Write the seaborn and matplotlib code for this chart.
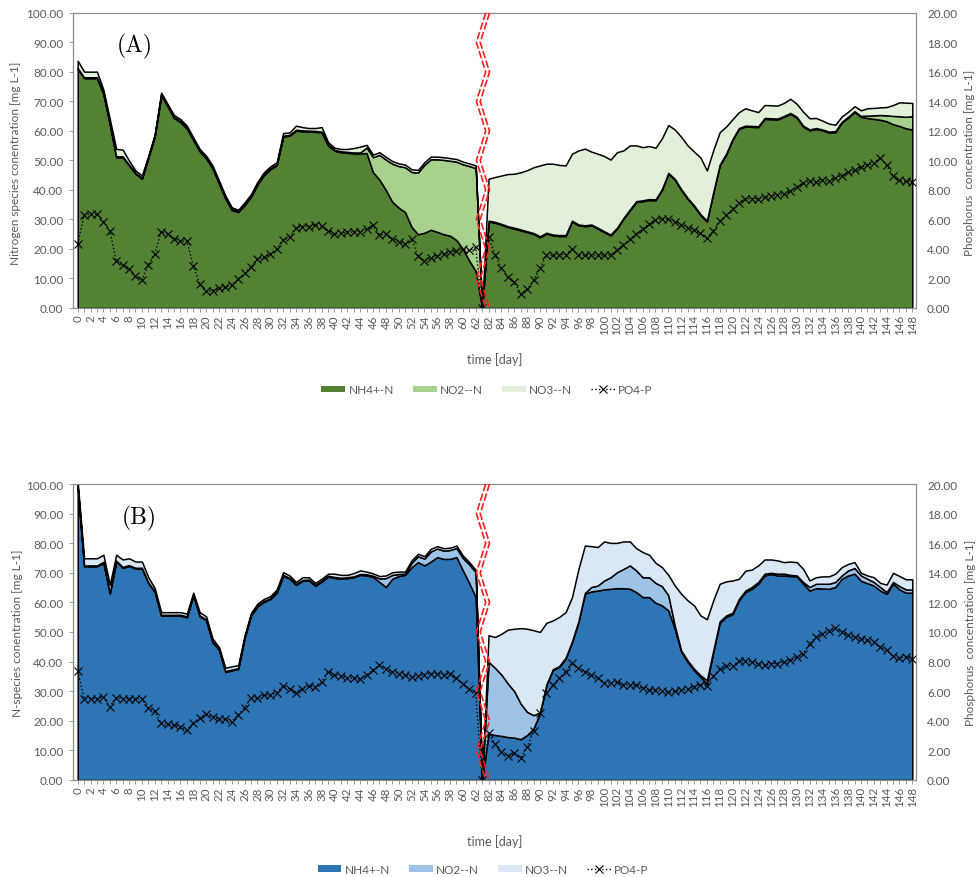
import numpy as np
import pandas as pd
import matplotlib
matplotlib.use("Agg")
import matplotlib.pyplot as plt
import matplotlib.transforms as mtransforms
from matplotlib.ticker import FormatStrFormatter
from matplotlib.patches import Patch
from matplotlib.lines import Line2D
import seaborn as sns

# ---- categories: sampling days, with one empty slot for the break ----
days_before = list(range(0, 63))
days_after = list(range(82, 149))
day_labels = [str(d) for d in days_before] + [""] + [str(d) for d in days_after]

# ---- panel A (green) : nitrogen species [mg L-1] and phosphate [mg L-1] ----
a_nh4 = [81.0, 77.9, 77.9, 77.9, 72.5, 62.3, 51.1, 51.1, 48.3, 45.5,
         43.8, 50.9, 58.2, 72.0, 68.4, 64.4, 63.0, 60.8, 56.9, 53.1,
         50.7, 47.3, 42.2, 37.1, 33.2, 32.5, 34.9, 37.7, 41.9, 45.0,
         47.0, 48.4, 58.1, 58.4, 60.1, 59.9, 59.8, 59.7, 59.5, 55.1,
         53.3, 52.8, 52.6, 52.4, 52.4, 52.5, 46.0, 43.5, 40.0, 36.0,
         34.0, 32.5, 27.5, 25.0, 25.5, 26.5, 25.8, 25.0, 24.5, 23.0,
         20.0, 16.0, 12.5,
         0.0,
         29.3, 28.9, 28.2, 27.4, 26.9, 26.3, 25.7, 25.1, 24.0, 25.2,
         24.6, 24.4, 24.4, 29.3, 28.0, 27.7, 28.0, 26.9, 25.7, 24.6,
         26.9, 30.2, 33.1, 35.9, 36.2, 36.6, 36.5, 40.0, 45.5, 43.5,
         40.0, 37.0, 34.5, 31.5, 29.3, 39.0, 48.3, 52.0, 57.0, 60.7,
         61.5, 61.4, 61.3, 64.1, 64.0, 63.9, 64.8, 65.8, 64.5, 61.5,
         60.2, 60.7, 60.2, 59.5, 59.6, 62.8, 64.5, 66.4, 64.8, 64.4,
         64.1, 63.8, 63.3, 62.3, 61.7, 60.9, 60.5]
a_no2 = [0.3, 0.3, 0.3, 0.3, 0.3, 0.3, 0.3, 0.3, 0.3, 0.3,
         0.3, 0.3, 0.3, 0.3, 0.3, 0.3, 0.3, 0.3, 0.3, 0.3,
         0.3, 0.3, 0.3, 0.3, 0.3, 0.3, 0.3, 0.3, 0.3, 0.3,
         0.3, 0.3, 0.3, 0.3, 0.3, 0.3, 0.3, 0.3, 0.3, 0.3,
         0.3, 0.3, 0.3, 0.3, 0.3, 1.9, 5.1, 8.4, 10.3, 12.9,
         14.1, 15.2, 18.6, 20.9, 23.0, 23.9, 24.6, 25.2, 25.4, 26.6,
         28.7, 32.1, 34.9,
         0.0,
         0.3, 0.3, 0.3, 0.3, 0.3, 0.3, 0.3, 0.3, 0.3, 0.3,
         0.3, 0.3, 0.3, 0.3, 0.3, 0.3, 0.3, 0.3, 0.3, 0.3,
         0.3, 0.3, 0.3, 0.3, 0.3, 0.3, 0.3, 0.3, 0.3, 0.3,
         0.3, 0.3, 0.3, 0.3, 0.3, 0.3, 0.3, 0.3, 0.3, 0.3,
         0.3, 0.3, 0.3, 0.3, 0.3, 0.3, 0.3, 0.3, 0.3, 0.3,
         0.3, 0.3, 0.3, 0.3, 0.3, 0.3, 0.3, 0.3, 0.3, 0.8,
         1.2, 1.6, 2.0, 2.8, 3.3, 3.9, 4.5]
a_no3 = [2.5, 1.9, 1.9, 1.9, 1.2, 1.4, 2.5, 2.3, 1.3, 0.8,
         0.8, 0.4, 0.4, 0.7, 0.4, 0.7, 0.7, 0.7, 0.6, 0.5,
         0.6, 0.7, 0.7, 0.7, 0.6, 0.5, 0.6, 0.6, 0.6, 0.7,
         0.7, 0.7, 0.9, 0.8, 1.4, 1.1, 0.9, 1.0, 1.5, 0.8,
         0.7, 0.8, 1.0, 1.5, 2.0, 0.9, 0.9, 0.9, 0.9, 0.9,
         0.9, 0.9, 0.9, 0.9, 0.9, 0.9, 0.9, 0.9, 0.9, 0.9,
         0.9, 0.9, 0.9,
         0.0,
         14.2, 15.2, 16.4, 17.7, 18.3, 19.4, 20.7, 22.3, 24.0, 23.4,
         24.0, 23.8, 23.6, 22.7, 25.1, 26.0, 24.7, 25.1, 25.5, 25.4,
         25.6, 22.9, 21.7, 18.9, 18.0, 18.0, 17.5, 17.2, 16.2, 16.7,
         17.7, 17.8, 18.2, 19.2, 17.0, 14.2, 11.0, 9.2, 6.7, 5.4,
         5.9, 5.3, 4.8, 4.4, 4.4, 4.4, 4.4, 4.8, 4.4, 4.7,
         3.8, 3.4, 3.0, 2.7, 2.2, 1.8, 1.7, 1.7, 1.9, 2.5,
         2.5, 2.6, 2.8, 3.7, 4.7, 4.8, 4.5]
a_po4 = [4.34, 6.30, 6.36, 6.36, 5.86, 5.24, 3.20, 2.92, 2.64, 2.14,
         1.92, 2.92, 3.66, 5.18, 5.02, 4.68, 4.52, 4.56, 2.86, 1.62,
         1.12, 1.18, 1.32, 1.40, 1.56, 1.96, 2.38, 2.76, 3.32, 3.44,
         3.66, 4.00, 4.60, 4.80, 5.44, 5.52, 5.52, 5.64, 5.56, 5.24,
         5.02, 5.06, 5.14, 5.16, 5.18, 5.36, 5.60, 4.95, 5.00, 4.70,
         4.50, 4.34, 4.70, 3.50, 3.20, 3.40, 3.55, 3.65, 3.78, 3.88,
         4.00, 3.90, 4.10,
         0.0,
         4.80, 3.60, 2.70, 2.10, 1.75, 0.97, 1.26, 1.87, 2.70, 3.57,
         3.60, 3.62, 3.62, 4.00, 3.60, 3.58, 3.58, 3.58, 3.58, 3.60,
         3.90, 4.30, 4.65, 5.00, 5.35, 5.70, 5.95, 6.05, 6.00, 5.85,
         5.65, 5.45, 5.28, 5.05, 4.75, 5.20, 5.90, 6.28, 6.70, 7.15,
         7.40, 7.40, 7.40, 7.50, 7.60, 7.65, 7.72, 7.90, 8.20, 8.45,
         8.58, 8.55, 8.65, 8.60, 8.80, 8.98, 9.20, 9.32, 9.55, 9.66,
         9.80, 10.20, 9.66, 8.98, 8.65, 8.58, 8.53]

# ---- panel B (blue) ----
b_nh4 = [98.5, 72.2, 72.2, 72.2, 73.4, 63.0, 73.8, 71.7, 72.3, 71.4,
         71.4, 66.5, 63.5, 55.5, 55.5, 55.5, 55.5, 55.0, 62.3, 55.3,
         54.0, 46.5, 44.0, 36.5, 37.0, 37.5, 48.0, 55.6, 58.6, 60.2,
         61.1, 63.3, 69.0, 68.0, 65.9, 67.3, 67.4, 65.6, 67.0, 68.7,
         68.3, 68.0, 68.2, 68.5, 69.3, 69.1, 68.6, 66.9, 65.2, 68.0,
         68.9, 69.3, 71.9, 73.6, 72.5, 73.8, 75.3, 74.7, 74.7, 75.3,
         70.8, 66.5, 61.8,
         0.0,
         15.7, 15.2, 14.9, 14.5, 14.3, 13.8, 15.2, 17.4, 22.5, 32.0,
         37.1, 38.2, 41.0, 46.6, 53.4, 62.9, 63.7, 64.0, 64.4, 64.6,
         64.8, 64.8, 64.6, 63.5, 61.8, 61.8, 59.9, 59.0, 57.3, 51.1,
         43.3, 39.9, 37.1, 34.8, 32.6, 43.3, 53.1, 55.1, 56.0, 60.7,
         63.5, 64.6, 66.3, 69.1, 69.6, 69.1, 69.1, 68.9, 68.8, 66.3,
         64.0, 64.8, 64.7, 64.6, 65.2, 68.0, 69.1, 69.7, 67.3, 66.5,
         65.7, 64.0, 62.9, 66.3, 64.4, 63.3, 63.3]
b_no2 = [0.5, 0.3, 0.3, 0.3, 0.3, 0.3, 0.3, 0.3, 0.3, 0.3,
         0.3, 0.3, 0.3, 0.3, 0.3, 0.3, 0.3, 0.3, 0.3, 0.3,
         0.3, 0.3, 0.3, 0.3, 0.3, 0.3, 0.3, 0.3, 0.3, 0.3,
         0.3, 0.3, 0.3, 0.3, 0.3, 0.3, 0.3, 0.3, 0.3, 0.3,
         0.3, 0.3, 0.3, 0.3, 0.3, 0.4, 0.4, 1.2, 3.0, 1.3,
         0.7, 0.4, 1.5, 2.0, 2.3, 3.4, 2.9, 2.8, 3.0, 3.1,
         4.2, 6.3, 8.4,
         0.0,
         24.2, 22.7, 20.7, 18.1, 15.7, 12.0, 7.8, 4.5, 0.3, 0.3,
         0.3, 0.3, 0.3, 0.3, 0.3, 0.3, 1.5, 1.7, 3.0, 3.9,
         5.4, 6.5, 7.9, 7.3, 6.7, 6.7, 6.7, 6.5, 5.1, 1.1,
         0.5, 0.5, 0.5, 0.6, 1.1, 0.5, 0.5, 0.5, 0.5, 0.5,
         0.5, 0.6, 0.6, 0.6, 0.4, 0.6, 0.6, 0.4, 0.3, 0.6,
         1.2, 1.5, 1.6, 1.7, 1.7, 1.1, 1.7, 1.9, 1.8, 1.5,
         1.2, 1.2, 0.6, 0.6, 1.1, 1.1, 1.0]
b_no3 = [1.5, 2.4, 2.4, 2.4, 2.4, 2.7, 2.0, 2.5, 2.3, 2.1,
         2.1, 1.7, 1.0, 0.9, 0.9, 0.9, 0.9, 0.9, 0.7, 1.1,
         1.0, 1.0, 0.6, 1.1, 1.1, 1.0, 0.6, 0.6, 0.7, 0.7,
         0.7, 0.8, 0.9, 0.8, 0.7, 0.9, 0.8, 0.7, 0.7, 0.7,
         1.1, 1.0, 0.8, 1.1, 1.2, 0.9, 0.8, 0.8, 0.9, 0.9,
         0.8, 0.7, 0.8, 0.8, 0.8, 0.9, 0.8, 0.8, 0.8, 0.8,
         0.8, 0.8, 0.8,
         0.0,
         9.0, 10.4, 13.8, 18.2, 21.1, 25.5, 28.1, 28.7, 27.2, 20.8,
         16.5, 16.6, 15.4, 14.9, 17.6, 16.0, 13.8, 13.0, 13.2, 11.6,
         9.9, 9.3, 8.1, 7.5, 8.5, 7.6, 6.8, 6.4, 6.9, 13.5,
         19.1, 20.3, 21.4, 20.2, 20.6, 16.9, 12.7, 11.5, 10.9, 6.8,
         6.7, 5.9, 5.6, 4.8, 4.5, 4.5, 3.9, 4.5, 4.5, 4.4,
         2.2, 2.2, 2.5, 2.5, 2.8, 2.8, 2.2, 2.0, 0.9, 1.1,
         1.6, 1.4, 2.5, 3.1, 3.4, 3.4, 3.5]
b_po4 = [7.35, 5.50, 5.50, 5.50, 5.62, 4.94, 5.55, 5.50, 5.50, 5.50,
         5.50, 4.88, 4.65, 3.82, 3.75, 3.71, 3.60, 3.37, 3.82, 4.16,
         4.43, 4.27, 4.11, 4.11, 3.93, 4.40, 4.85, 5.55, 5.55, 5.73,
         5.73, 5.91, 6.36, 6.18, 5.91, 6.18, 6.36, 6.30, 6.63, 7.30,
         7.10, 7.03, 6.90, 6.90, 6.81, 7.10, 7.42, 7.75, 7.53, 7.30,
         7.19, 7.12, 6.97, 7.03, 7.12, 7.19, 7.19, 7.12, 7.19, 6.90,
         6.50, 6.15, 5.90,
         0.0,
         3.20, 2.40, 1.90, 1.65, 1.80, 1.50, 2.20, 3.30, 4.50, 5.90,
         6.40, 6.90, 7.30, 7.90, 7.55, 7.30, 7.10, 6.90, 6.55, 6.55,
         6.60, 6.45, 6.40, 6.40, 6.20, 6.10, 6.05, 6.00, 5.92, 6.00,
         6.07, 6.15, 6.30, 6.45, 6.35, 7.00, 7.50, 7.70, 7.70, 8.05,
         8.02, 7.98, 7.87, 7.75, 7.87, 7.87, 7.98, 8.09, 8.31, 8.54,
         9.21, 9.66, 9.89, 10.10, 10.27, 10.00, 9.78, 9.66, 9.55, 9.44,
         9.30, 9.00, 8.76, 8.35, 8.25, 8.31, 8.20]

series_names = ["NH4+-N", "NO2--N", "NO3--N", "PO4-P"]
greens = ["#548235", "#A9D18E", "#E2F0D9"]
blues = ["#2E75B6", "#9DC3E6", "#DAE8F5"]

sns.set_theme(style="white")
plt.rcParams["font.family"] = ["Lato", "DejaVu Sans"]

TXT = "#595959"
SPINE = "#8c8c8c"

fig = plt.figure(figsize=(9.8, 8.78), dpi=100)


def draw_panel(rect, nh4, no2, no3, po4, colors, letter, letter_xy,
               left_label, left_xy, right_xy, xlabel_y, legend_xy):
    ax = fig.add_axes(rect)
    pos = np.arange(len(day_labels))
    ax.stackplot(pos, nh4, no2, no3, colors=colors,
                 edgecolor="black", linewidth=1.1)
    ax.set_xlim(-0.73, len(day_labels) - 0.42)
    ax.set_ylim(0, 100)
    ax.set_yticks(np.arange(0, 101, 10))
    ax.yaxis.set_major_formatter(FormatStrFormatter("%.2f"))
    ax.set_xticks(pos)
    ax.set_xticklabels([lab if i % 2 == 0 else "" for i, lab in enumerate(day_labels)],
                       rotation=90)
    ax.tick_params(axis="x", bottom=True, length=3, width=0.6, color=SPINE,
                   labelsize=8.3, labelcolor=TXT, pad=1.5)
    ax.tick_params(axis="y", left=True, length=3, width=0.6, color=SPINE,
                   labelsize=8.5, labelcolor=TXT, pad=4)
    ax.set_xlabel("")
    ax.set_ylabel("")

    ax2 = ax.twinx()
    df = pd.DataFrame({"pos": pos, "po4": po4})
    sns.lineplot(data=df, x="pos", y="po4", ax=ax2, color="black",
                 linestyle=":", linewidth=1.0, marker="x", markersize=5.5,
                 markeredgewidth=0.8, markeredgecolor="black")
    ax2.set_ylim(0, 20)
    ax2.set_yticks(np.arange(0, 21, 2))
    ax2.yaxis.set_major_formatter(FormatStrFormatter("%.2f"))
    ax2.tick_params(axis="y", right=True, length=0, labelsize=8.5,
                    labelcolor=TXT, pad=8)
    ax2.set_xlabel("")
    ax2.set_ylabel("")

    for a in (ax, ax2):
        for s in a.spines.values():
            s.set_color(SPINE)
            s.set_linewidth(0.8)

    # axis break drawn over the empty category
    gap = day_labels.index("")
    trans = mtransforms.blended_transform_factory(ax2.transData, ax2.transAxes)
    n_seg = 10
    ys = np.linspace(1, 0, n_seg + 1)
    xs = np.array([gap + 0.55 if k % 2 == 0 else gap - 0.9 for k in range(n_seg + 1)])
    for off in (0.0, 0.6):
        ax2.plot(xs + off, ys, transform=trans, color="#ff2020", lw=1.2,
                 dashes=(4.5, 1.5), zorder=6, clip_on=False)

    fig.text(letter_xy[0], letter_xy[1], letter, family="cmr10", fontsize=17,
             ha="center", va="center", color="black")
    fig.text(left_xy[0], left_xy[1], left_label, rotation=90, fontsize=8.5,
             color=TXT, ha="center", va="center")
    fig.text(right_xy[0], right_xy[1], "Phosphorus  concentration [mg L-1]",
             rotation=90, fontsize=8.5, color=TXT, ha="center", va="center")
    fig.text(0.505, xlabel_y, "time [day]", fontsize=9, color=TXT,
             ha="center", va="center")

    handles = [Patch(facecolor=c, edgecolor="none") for c in colors]
    handles.append(Line2D([], [], color="black", linestyle=":", linewidth=1.0,
                          marker="x", markersize=5.5, markeredgewidth=0.8))
    fig.legend(handles, series_names, loc="center", bbox_to_anchor=legend_xy,
               ncol=4, frameon=False, fontsize=8.5, handlelength=2.0,
               handleheight=0.5, columnspacing=1.6, handletextpad=0.3,
               labelcolor=TXT)
    return ax, ax2


draw_panel([0.0745, 0.6481, 0.8602, 0.3360], a_nh4, a_no2, a_no3, a_po4, greens,
           "(A)", (0.137, 0.947),
           "Nitrogen species conentration [mg L-1]", (0.0155, 0.814),
           (0.9895, 0.815), 0.591, (0.497, 0.555))
draw_panel([0.0745, 0.1105, 0.8602, 0.3371], b_nh4, b_no2, b_no3, b_po4, blues,
           "(B)", (0.142, 0.409),
           "N-species conentration [mg L-1]", (0.018, 0.279),
           (0.9905, 0.279), 0.041, (0.493, 0.0085))

fig.savefig("out.png", dpi=100)
